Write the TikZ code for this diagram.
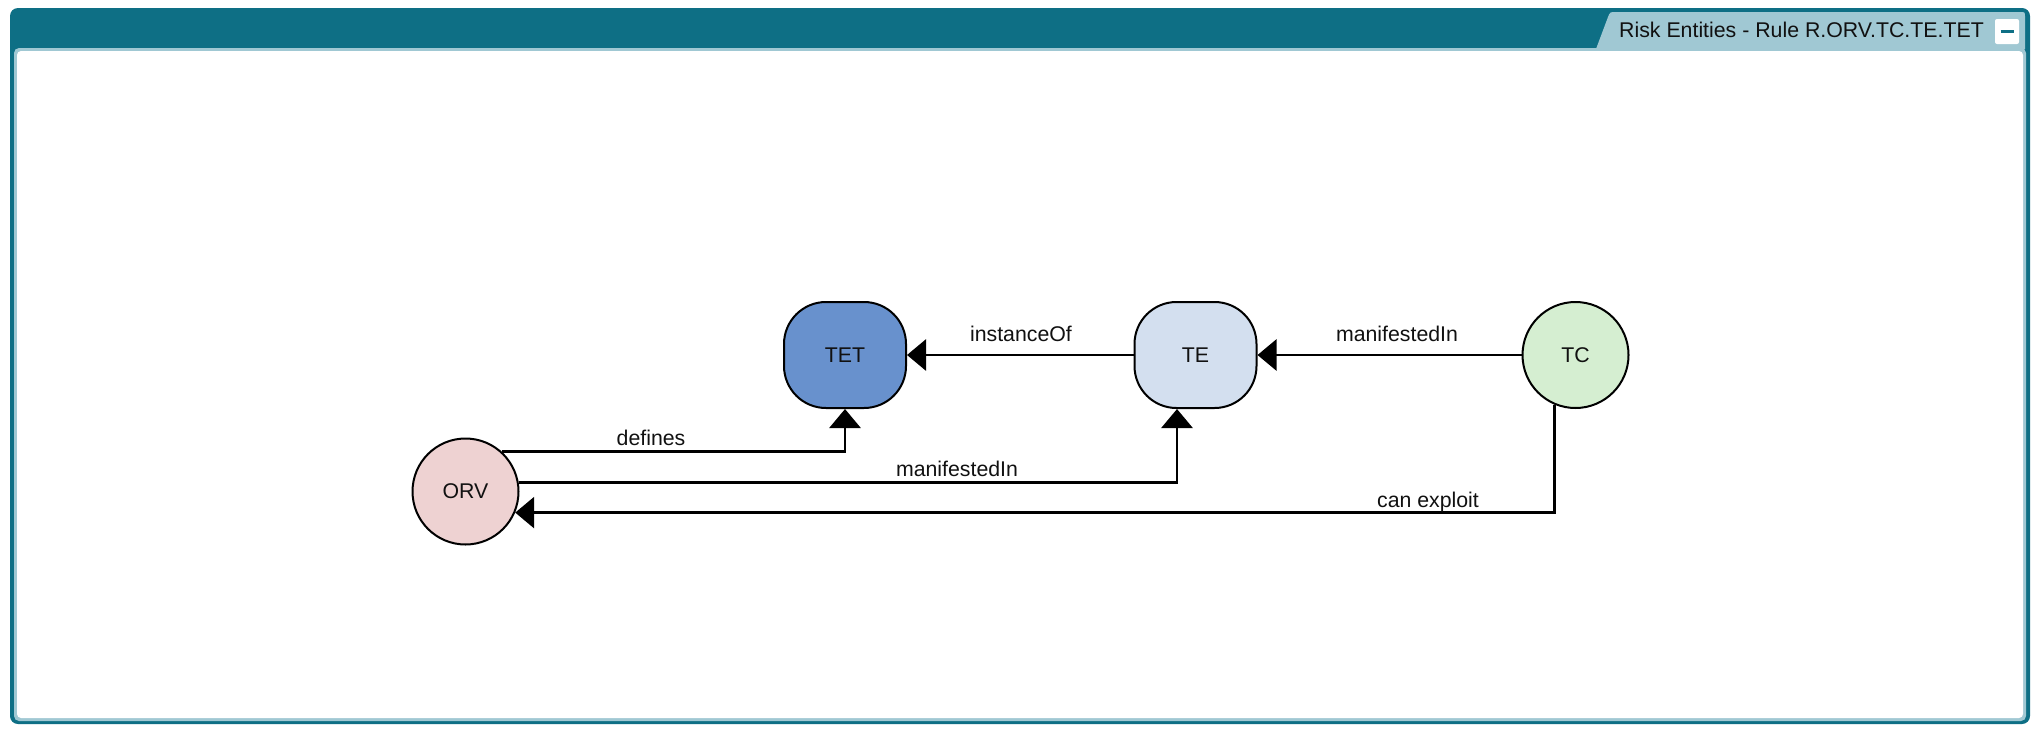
\documentclass[tikz,border=0pt]{standalone}
\usepackage{fontspec}
\setmainfont{Liberation Sans}
\usetikzlibrary{arrows.meta,calc}
\definecolor{frameteal}{HTML}{0E6F85}
\definecolor{framelight}{HTML}{A0C8D3}
\definecolor{tetfill}{HTML}{6891CD}
\definecolor{tefill}{HTML}{D3DFEF}
\definecolor{tcfill}{HTML}{D5EED1}
\definecolor{orvfill}{HTML}{EED2D2}
\definecolor{inkcol}{HTML}{111111}
\begin{document}
\begin{tikzpicture}[x=1pt,y=-1pt,
  txt/.style={font=\fontsize{21.3}{25}\selectfont, text=inkcol},
  roundbox/.style={txt, draw=black, line width=2pt, rectangle, rounded corners=42pt, minimum width=122pt, minimum height=106pt, inner sep=0pt},
  circ/.style={txt, draw=black, line width=2pt, circle, minimum size=106pt, inner sep=0pt},
  edge/.style={draw=black, line width=2.9pt, -{Triangle[length=19pt,width=31pt]}},
  lbl/.style={txt, anchor=base, inner sep=0pt}]
\useasboundingbox (0,0) rectangle (2041,737);
\fill[white] (0,0) rectangle (2041,737);
% frame
\fill[frameteal, rounded corners=8pt] (10,8) rectangle (2030,724);
\fill[framelight, rounded corners=5pt] (14,48) rectangle (2026,721);
\fill[white, rounded corners=4pt] (17,51) rectangle (2023,718);
\fill[framelight] (1596,49) -- (1608,17) .. controls (1610,12) .. (1616,12) -- (2020,12) .. controls (2025,12) .. (2025,17) -- (2025,49) -- cycle;
\node[txt, anchor=base west, inner sep=0pt] (title) at (1619,37) {Risk Entities - Rule R.ORV.TC.TE.TET};
\node[fill=white, rounded corners=2pt, minimum width=24pt, minimum height=25pt, inner sep=0pt] (btn) at (2007,31.5) {};
\draw[frameteal, line width=2.6pt] ([xshift=-6.5pt]btn.center) -- ([xshift=6.5pt]btn.center);
% nodes
\node[roundbox, fill=tetfill] (TET) at (845,355) {TET};
\node[roundbox, fill=tefill] (TE) at (1195.5,355) {TE};
\node[circ, fill=tcfill] (TC) at (1575.5,355) {TC};
\node[circ, fill=orvfill] (ORV) at (465.5,491.5) {ORV};
% edges
\draw[edge] (TE) -- (TET);
\draw[edge] (TC) -- (TE);
\draw[edge] (ORV.48.6) -| (TET.south);
\draw[edge] (ORV.10.1) -| ([xshift=-18.5pt]TE.south);
\draw[edge] (TC.-113.5) |- (ORV.-23.5);
% labels
\node[lbl] (l1) at (651,445) {defines};
\node[lbl] (l2) at (957,476) {manifestedIn};
\node[lbl] (l3) at (1428,507) {can exploit};
\node[lbl] (l4) at (1021,341) {instanceOf};
\node[lbl] (l5) at (1397,341) {manifestedIn};
\end{tikzpicture}
\end{document}
